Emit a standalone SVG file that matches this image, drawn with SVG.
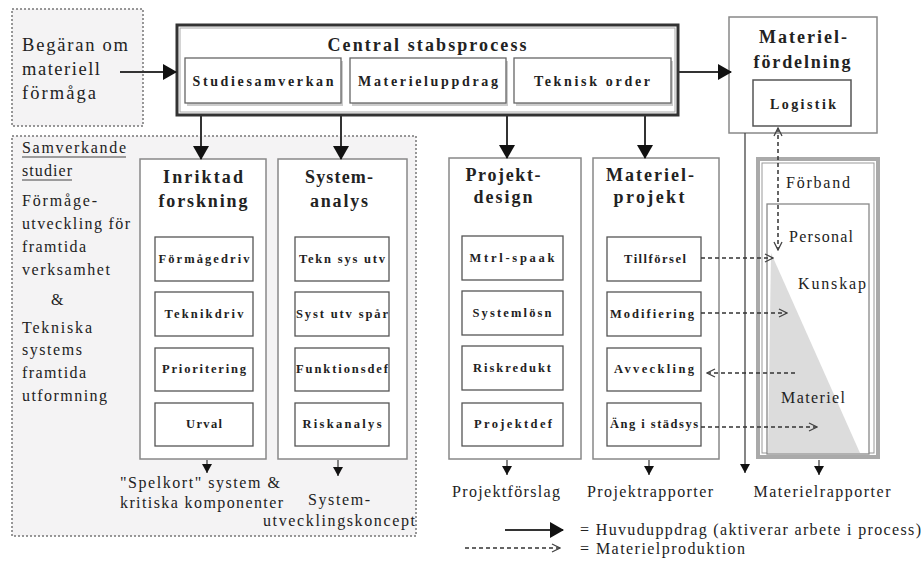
<svg xmlns="http://www.w3.org/2000/svg" width="924" height="562" viewBox="0 0 924 562">
<defs>
<style>
text{font-family:"Liberation Serif","Times New Roman","DejaVu Serif",serif;fill:#222}
.h{font-size:18px;font-weight:bold;text-anchor:middle}
.s{font-size:12.5px;font-weight:bold;text-anchor:middle}
.l{font-size:16px}
.zone{fill:#f4f3f4;stroke:#777;stroke-width:1.5;stroke-dasharray:2 2}
.col{fill:#fff;stroke:#888;stroke-width:1.5}
.inner{fill:#fff;stroke:#555;stroke-width:1.3}
.sub{fill:#fff;stroke:#666;stroke-width:1.3}
.main{stroke:#333;stroke-width:2;fill:none}
.thin{stroke:#444;stroke-width:1.3;fill:none}
.dash{stroke:#333;stroke-width:1.5;fill:none;stroke-dasharray:4 3}
</style>
<marker id="big" viewBox="0 0 14 16" refX="13" refY="8" markerWidth="14" markerHeight="16" markerUnits="userSpaceOnUse" orient="auto"><path d="M0,0 L14,8 L0,16 Z" fill="#111"/></marker>
<marker id="sm" viewBox="0 0 9 10" refX="9" refY="5" markerWidth="9" markerHeight="10" markerUnits="userSpaceOnUse" orient="auto"><path d="M0,0 L9,5 L0,10 Z" fill="#111"/></marker>
<marker id="open" viewBox="0 0 10 10" refX="9" refY="5" markerWidth="10" markerHeight="10" markerUnits="userSpaceOnUse" orient="auto"><path d="M1,1 L9,5 L1,9" fill="none" stroke="#444" stroke-width="1.3"/></marker>
<marker id="openS" viewBox="0 0 10 10" refX="1" refY="5" markerWidth="10" markerHeight="10" markerUnits="userSpaceOnUse" orient="auto"><path d="M9,1 L1,5 L9,9" fill="none" stroke="#444" stroke-width="1.3"/></marker>
</defs>
<rect width="924" height="562" fill="#fff"/>

<g id="begaran">
<rect class="zone" x="12" y="9" width="131" height="117"/>
<text class="l" x="22" y="51" style="font-size:18.5px" textLength="106">Begäran om</text>
<text class="l" x="22" y="75" style="font-size:18.5px" textLength="78">materiell</text>
<text class="l" x="22" y="99" style="font-size:18.5px" textLength="74">förmåga</text>
</g>

<g id="samverkande">
<rect class="zone" x="12" y="136" width="404" height="400"/>
<text class="l" x="22" y="153" textLength="104">Samverkande</text>
<line x1="22" y1="157" x2="126" y2="157" stroke="#444" stroke-width="1"/>
<text class="l" x="22" y="176" textLength="50">studier</text>
<line x1="22" y1="180" x2="72" y2="180" stroke="#444" stroke-width="1"/>
<text class="l" x="22" y="206" textLength="75">Förmåge-</text>
<text class="l" x="22" y="229" textLength="108">utveckling för</text>
<text class="l" x="22" y="252" textLength="64">framtida</text>
<text class="l" x="22" y="275" textLength="88">verksamhet</text>
<text class="l" x="51" y="305">&amp;</text>
<text class="l" x="22" y="333" textLength="70">Tekniska</text>
<text class="l" x="22" y="355" textLength="60">systems</text>
<text class="l" x="22" y="378" textLength="64">framtida</text>
<text class="l" x="22" y="401" textLength="85">utformning</text>
<text class="l" x="120" y="488" textLength="160">"Spelkort" system &amp;</text>
<text class="l" x="120" y="508" textLength="163">kritiska komponenter</text>
<text class="l" x="339" y="505" text-anchor="middle" textLength="62">System-</text>
<text class="l" x="339" y="526" text-anchor="middle" textLength="152">utvecklingskoncept</text>
</g>

<g id="central">
<rect x="177" y="25" width="501" height="90" fill="#fff" stroke="#333" stroke-width="3"/>
<rect x="180" y="28" width="495" height="84" fill="none" stroke="#aaa" stroke-width="1"/>
<text class="h" x="427" y="51" textLength="199">Central  stabsprocess</text>
<rect x="187" y="61" width="156" height="45" fill="#ccc"/>
<rect class="sub" x="185" y="58" width="156" height="45"/>
<text class="s" x="263" y="86" style="font-size:14px" textLength="141">Studiesamverkan</text>
<rect x="352" y="61" width="156" height="45" fill="#ccc"/>
<rect class="sub" x="350" y="58" width="156" height="45"/>
<text class="s" x="428" y="86" style="font-size:14px" textLength="140">Materieluppdrag</text>
<rect x="516" y="61" width="157" height="45" fill="#ccc"/>
<rect class="sub" x="514" y="58" width="157" height="45"/>
<text class="s" x="592" y="86" style="font-size:14px" textLength="116">Teknisk order</text>
</g>

<g id="materielfordelning">
<rect x="729" y="17" width="148" height="116" fill="#fff" stroke="#888" stroke-width="1.5"/>
<text class="h" x="803" y="43" textLength="88">Materiel-</text>
<text class="h" x="802" y="68" textLength="97">fördelning</text>
<rect x="753" y="80" width="98" height="46" fill="#fff" stroke="#555" stroke-width="1.5"/>
<text class="s" x="803" y="109" style="font-size:14px" textLength="66">Logistik</text>
</g>

<g id="inriktad">
<rect class="col" x="140" y="159" width="126" height="300"/>
<text class="h" x="203" y="183" textLength="80">Inriktad</text>
<text class="h" x="203" y="207" textLength="89">forskning</text>
<rect class="inner" x="155" y="237" width="98" height="44"/>
<text class="s" x="204" y="263" textLength="91">Förmågedriv</text>
<rect class="inner" x="155" y="292" width="98" height="44"/>
<text class="s" x="204" y="318" textLength="79">Teknikdriv</text>
<rect class="inner" x="155" y="348" width="98" height="43"/>
<text class="s" x="204" y="373" textLength="84">Prioritering</text>
<rect class="inner" x="155" y="403" width="98" height="43"/>
<text class="s" x="204" y="428" textLength="36">Urval</text>
</g>

<g id="systemanalys">
<rect class="col" x="278" y="159" width="129" height="300"/>
<text class="h" x="339" y="183" textLength="68">System-</text>
<text class="h" x="339" y="207" textLength="58">analys</text>
<rect class="inner" x="295" y="237" width="94" height="44"/>
<text class="s" x="342" y="263" textLength="86">Tekn sys utv</text>
<rect class="inner" x="295" y="292" width="94" height="44"/>
<text class="s" x="342" y="318" textLength="92">Syst utv spår</text>
<rect class="inner" x="295" y="348" width="94" height="43"/>
<text class="s" x="342" y="373" textLength="92">Funktionsdef</text>
<rect class="inner" x="295" y="403" width="94" height="43"/>
<text class="s" x="342" y="428" textLength="79">Riskanalys</text>
</g>

<g id="projektdesign">
<rect class="col" x="449" y="158" width="132" height="301"/>
<text class="h" x="503" y="181" textLength="75">Projekt-</text>
<text class="h" x="503" y="203" textLength="59">design</text>
<rect class="inner" x="462" y="236" width="101" height="44"/>
<text class="s" x="512" y="262" textLength="85">Mtrl-spaak</text>
<rect class="inner" x="462" y="291" width="101" height="44"/>
<text class="s" x="512" y="317" textLength="79">Systemlösn</text>
<rect class="inner" x="462" y="346" width="101" height="44"/>
<text class="s" x="512" y="372" textLength="78">Riskredukt</text>
<rect class="inner" x="462" y="403" width="101" height="43"/>
<text class="s" x="513" y="428" textLength="78">Projektdef</text>
</g>

<g id="materielprojekt">
<rect class="col" x="593" y="158" width="126" height="301"/>
<text class="h" x="650" y="181" textLength="88">Materiel-</text>
<text class="h" x="649" y="203" textLength="71">projekt</text>
<rect class="inner" x="607" y="237" width="94" height="44"/>
<text class="s" x="655" y="263" textLength="62">Tillförsel</text>
<rect class="inner" x="607" y="292" width="94" height="44"/>
<text class="s" x="652" y="318" textLength="84">Modifiering</text>
<rect class="inner" x="607" y="348" width="94" height="43"/>
<text class="s" x="654" y="373" textLength="80">Avveckling</text>
<rect class="inner" x="607" y="403" width="94" height="43"/>
<text class="s" x="654" y="428" textLength="88">Äng i städsys</text>
</g>

<g id="forband">
<rect x="758" y="159" width="120" height="298" fill="#fff" stroke="#aaa" stroke-width="4"/>
<rect x="762" y="163" width="112" height="290" fill="none" stroke="#999" stroke-width="1"/>
<rect x="767" y="204" width="102" height="250" fill="#fff" stroke="#888" stroke-width="1.3"/>
<path d="M771,253 L860,453 L768,453 Z" fill="#dcdcdc"/>
<text class="l" x="818" y="188" text-anchor="middle" textLength="64">Förband</text>
<text class="l" x="821" y="242" text-anchor="middle" textLength="64">Personal</text>
<text class="l" x="832" y="289" text-anchor="middle" textLength="68">Kunskap</text>
<text class="l" x="813" y="403" text-anchor="middle" textLength="64">Materiel</text>
</g>

<g id="outputs">
<text class="l" x="506" y="497" text-anchor="middle" textLength="108">Projektförslag</text>
<text class="l" x="650" y="497" text-anchor="middle" textLength="126">Projektrapporter</text>
<text class="l" x="822" y="497" text-anchor="middle" textLength="137">Materielrapporter</text>
</g>

<g id="legend">
<line class="main" x1="505" y1="530" x2="563" y2="530" marker-end="url(#big)"/>
<text class="l" x="580" y="535" textLength="341">= Huvuduppdrag (aktiverar arbete i process)</text>
<line class="dash" x1="465" y1="548" x2="560" y2="548" marker-end="url(#open)"/>
<text class="l" x="580" y="554" textLength="165">= Materielproduktion</text>
</g>

<g id="connectors">
<line class="main" x1="120" y1="72" x2="176" y2="72" marker-end="url(#big)"/>
<line class="main" x1="679" y1="72" x2="731" y2="72" marker-end="url(#big)"/>
<line class="main" x1="201" y1="116" x2="201" y2="159" marker-end="url(#big)"/>
<line class="main" x1="341" y1="116" x2="341" y2="159" marker-end="url(#big)"/>
<line class="main" x1="507" y1="116" x2="507" y2="158" marker-end="url(#big)"/>
<line class="main" x1="645" y1="116" x2="645" y2="158" marker-end="url(#big)"/>
<line class="thin" x1="207" y1="460" x2="207" y2="473" marker-end="url(#sm)"/>
<line class="thin" x1="338" y1="460" x2="338" y2="476" marker-end="url(#sm)"/>
<line class="thin" x1="507" y1="460" x2="507" y2="475" marker-end="url(#sm)"/>
<line class="thin" x1="649" y1="460" x2="649" y2="475" marker-end="url(#sm)"/>
<line class="thin" x1="745" y1="133" x2="745" y2="473" marker-end="url(#sm)"/>
<line class="thin" x1="819" y1="460" x2="819" y2="475" marker-end="url(#sm)"/>
<line class="dash" x1="778" y1="128" x2="778" y2="250" marker-start="url(#openS)" marker-end="url(#open)"/>
<line class="dash" x1="701" y1="258" x2="773" y2="258" marker-end="url(#open)"/>
<line class="dash" x1="701" y1="313" x2="787" y2="313" marker-end="url(#open)"/>
<line class="dash" x1="707" y1="373" x2="796" y2="373" marker-start="url(#openS)"/>
<line class="dash" x1="701" y1="427" x2="817" y2="427" marker-end="url(#open)"/>
</g>
</svg>
